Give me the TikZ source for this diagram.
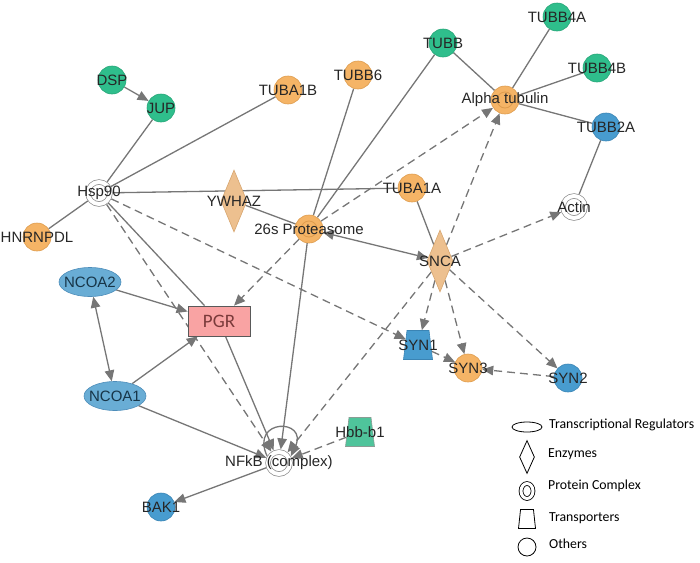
\documentclass[tikz,border=0pt]{standalone}
\usepackage{fontspec}
\setmainfont{Liberation Sans}
\newfontfamily\keyfont{Carlito}
\usetikzlibrary{arrows.meta}
\usetikzlibrary{shapes.geometric}
\usetikzlibrary{backgrounds}

\definecolor{ipaorange}{HTML}{F5B466}
\definecolor{ipaorangeline}{HTML}{DE9C4E}
\definecolor{ipatan}{HTML}{EDC08F}
\definecolor{ipatanline}{HTML}{D7A56E}
\definecolor{ipagreen}{HTML}{2FBE8C}
\definecolor{ipagreenline}{HTML}{25A577}
\definecolor{ipalight}{HTML}{4FC49B}
\definecolor{ipalightline}{HTML}{8A9C94}
\definecolor{ipablue}{HTML}{489CCF}
\definecolor{ipablueline}{HTML}{3A84B4}
\definecolor{ipaellipse}{HTML}{69ADD5}
\definecolor{ipaellipseline}{HTML}{4D8DBA}
\definecolor{ipapink}{HTML}{F9A3A3}
\definecolor{ipapinktext}{HTML}{7A3A3A}
\definecolor{ipaedge}{HTML}{767676}

\begin{document}
\begin{tikzpicture}[x=1pt, y=-1pt, >={Triangle[length=11pt,width=9.5pt]},
    every label/.style={font=\fontsize{15}{17}\selectfont, text=black!85},
    gene/.style={circle, minimum size=28pt, inner sep=0pt, fill=#1, draw=#1line, line width=0.6pt},
    complex/.style={circle, minimum size=28pt, inner sep=0pt, fill=ipaorange, draw=ipaorangeline, line width=0.6pt,
        path picture={\draw[ipaorangeline, line width=0.8pt] (path picture bounding box.center) circle (8pt);}},
    group/.style={circle, minimum size=22pt, inner sep=0pt, outer sep=2.7pt, fill=white, draw=black!45,
        line width=0.7pt, double=white, double distance=4pt},
    enzyme/.style={diamond, minimum width=26pt, minimum height=62pt, inner sep=0pt, fill=ipatan,
        draw=ipatanline, line width=0.6pt},
    regulator/.style={ellipse, minimum width=62pt, minimum height=29pt, inner sep=0pt, fill=ipaellipse,
        draw=ipaellipseline, line width=0.6pt},
    transporter/.style={trapezium, trapezium angle=81, trapezium stretches=true, minimum width=29pt,
        minimum height=29pt, inner sep=1pt, fill=#1, draw=#1line, line width=0.6pt},
    receptor/.style={rectangle, minimum width=62pt, minimum height=30pt, inner sep=0pt, fill=ipapink,
        draw=black!65, line width=0.8pt, text=ipapinktext, font=\keyfont\fontsize{19}{20}\selectfont},
    link/.style={draw=ipaedge, line width=1.3pt},
    indirect/.style={link, dash pattern=on 8pt off 5pt},
    keyshape/.style={draw=black, line width=0.8pt, inner sep=0pt, fill=white},
    keytext/.style={anchor=west, inner sep=0pt, font=\keyfont\fontsize{13.8}{15}\selectfont}]

    \useasboundingbox (0,0) rectangle (700,562);

    \node[gene=ipagreen, label=center:DSP] (dsp) at (112,80) {};
    \node[gene=ipagreen, label=center:JUP] (jup) at (161,108) {};
    \node[gene=ipaorange, label=center:TUBA1B] (tuba1b) at (288,90) {};
    \node[gene=ipaorange, label=center:TUBB6] (tubb6) at (358,75) {};
    \node[gene=ipagreen, label=center:TUBB] (tubb) at (443,43) {};
    \node[gene=ipagreen, label=center:TUBB4A] (tubb4a) at (557,17) {};
    \node[gene=ipagreen, label=center:TUBB4B] (tubb4b) at (597,68) {};
    \node[complex, label=center:Alpha tubulin] (alphatub) at (505,100) {};
    \node[gene=ipablue, label=center:TUBB2A] (tubb2a) at (606,127) {};
    \node[group, label=center:Actin] (actin) at (574,207) {};
    \node[gene=ipaorange, label=center:TUBA1A] (tuba1a) at (412,188) {};
    \node[enzyme, label=center:SNCA] (snca) at (440,261) {};
    \node[enzyme, label=center:YWHAZ] (ywhaz) at (234,201) {};
    \node[complex, label=center:26s Proteasome] (prot26s) at (309,229) {};
    \node[group, label=center:Hsp90] (hsp90) at (99,193) {};
    \node[gene=ipaorange, label=center:HNRNPDL] (hnrnpdl) at (37,237) {};
    \node[regulator, label={[text=ipablueline!40!black]center:NCOA2}] (ncoa2) at (90,282) {};
    \node[receptor] (pgr) at (219,321) {PGR};
    \node[regulator, label={[text=ipablueline!40!black]center:NCOA1}] (ncoa1) at (115,396) {};
    \node[group, label=center:NFkB (complex)] (nfkb) at (279,463) {};
    \node[gene=ipablue, label=center:BAK1] (bak1) at (161,507) {};
    \node[transporter=ipalight, label=center:Hbb-b1] (hbb) at (360,432) {};
    \node[transporter=ipablue, label=center:SYN1] (syn1) at (418,345) {};
    \node[gene=ipaorange, label=center:SYN3] (syn3) at (468,368) {};
    \node[gene=ipablue, label=center:SYN2] (syn2) at (568,378) {};

    \begin{scope}[on background layer]
        \draw[link] (hsp90) -- (jup);
        \draw[link] (hsp90) -- (tuba1b);
        \draw[link] (hsp90) -- (hnrnpdl);
        \draw[link] (hsp90) -- (tuba1a);
        \draw[link] (hsp90) -- (pgr);
        \draw[link] (ywhaz) -- (prot26s);
        \draw[link] (prot26s) -- (tubb6);
        \draw[link] (prot26s) -- (tubb);
        \draw[link] (tuba1a) -- (snca);
        \draw[link] (alphatub) -- (tubb);
        \draw[link] (alphatub) -- (tubb4a);
        \draw[link] (alphatub) -- (tubb4b);
        \draw[link] (alphatub) -- (tubb2a);
        \draw[link] (tubb2a) -- (actin);

        \draw[link, ->] (dsp) -- (jup);
        \draw[link, <->] (ncoa2) -- (ncoa1);
        \draw[link, ->] (ncoa2) -- (pgr);
        \draw[link, ->] (ncoa1) -- (pgr);
        \draw[link, ->] (ncoa1) -- (nfkb);
        \draw[link, ->] (pgr) -- (nfkb);
        \draw[link, ->] (prot26s) -- (nfkb);
        \draw[link, <->] (prot26s) -- (snca);
        \draw[link, ->] (nfkb) -- (bak1);
        \draw[link, ->] (nfkb.150) to[out=115, in=65, distance=42pt] (nfkb.30);

        \draw[indirect, ->] (hsp90) -- (nfkb);
        \draw[indirect, ->] (hsp90) -- (syn1);
        \draw[indirect, ->] (prot26s) -- (pgr);
        \draw[indirect, ->] (prot26s) -- (alphatub);
        \draw[indirect, ->] (snca) -- (alphatub);
        \draw[indirect, ->] (snca) -- (actin);
        \draw[indirect, ->] (snca) -- (syn1);
        \draw[indirect, ->] (snca) -- (syn3);
        \draw[indirect, ->] (snca) -- (syn2);
        \draw[indirect, ->] (snca) -- (nfkb);
        \draw[indirect, ->] (syn1) -- (syn3);
        \draw[indirect, ->] (syn2) -- (syn3);
        \draw[indirect, ->] (hbb) -- (nfkb);
    \end{scope}

    \node[keyshape, ellipse, minimum width=30pt, minimum height=10pt] (keytr) at (527,427) {};
    \node[keytext] (keytrtext) at (549,425) {Transcriptional Regulators};
    \node[keyshape, diamond, minimum width=15pt, minimum height=33pt] (keyenz) at (527,457) {};
    \node[keytext] (keyenztext) at (548,454) {Enzymes};
    \node[keyshape, ellipse, minimum width=12pt, minimum height=15pt, double=white, double distance=3pt] (keycx) at (527,491) {};
    \node[keytext] (keycxtext) at (548,486) {Protein Complex};
    \node[keyshape, trapezium, trapezium angle=81, trapezium stretches=true, minimum width=17pt, minimum height=19pt, inner sep=1pt] (keytp) at (527,519) {};
    \node[keytext] (keytptext) at (549,518) {Transporters};
    \node[keyshape, circle, minimum size=18pt] (keyot) at (527,547) {};
    \node[keytext] (keyottext) at (549,544) {Others};

\end{tikzpicture}
\end{document}
